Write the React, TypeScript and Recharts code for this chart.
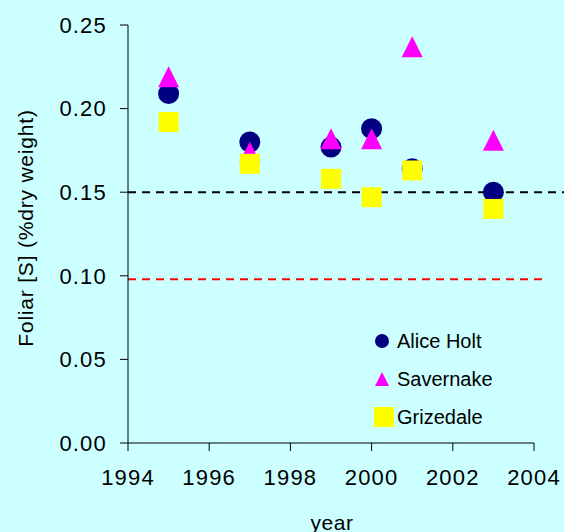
import React from "react";
import {
  ReferenceLine,
  Scatter,
  ScatterChart,
  XAxis,
  YAxis,
} from "recharts";

const years = [1995, 1997, 1999, 2000, 2001, 2003];
const aliceHolt = [0.209, 0.18, 0.177, 0.188, 0.164, 0.15];
const savernake = [0.219, 0.174, 0.182, 0.182, 0.237, 0.181];
const grizedale = [0.192, 0.167, 0.158, 0.147, 0.163, 0.14];

const xTicks = [1994, 1996, 1998, 2000, 2002, 2004];
const yTicks = [0, 0.05, 0.1, 0.15, 0.2, 0.25];

const upperThreshold = 0.15;
const lowerThreshold = 0.098;

const toPoints = (vals: number[]) => years.map((year, i) => ({ year, value: vals[i] }));

const FONT = "'Liberation Sans', Arial, sans-serif";

const Circle = (props: any) => {
  const { cx, cy } = props;
  return <circle cx={cx} cy={cy} r={10.5} fill="#000080" />;
};

const Triangle = (props: any) => {
  const { cx, cy } = props;
  const h = 10.5;
  return (
    <polygon
      points={`${cx},${cy - h} ${cx + h},${cy + h} ${cx - h},${cy + h}`}
      fill="#FF00FF"
    />
  );
};

const Square = (props: any) => {
  const { cx, cy } = props;
  return <rect x={cx - 10} y={cy - 10} width={20} height={20} fill="#FFFF00" />;
};

const YLabel = () => (
  <text
    x={25}
    y={228}
    transform="rotate(-90 25 228)"
    textAnchor="middle"
    dominantBaseline="central"
    fontFamily={FONT}
    fontSize={21}
    letterSpacing={0.8}
    fill="#000"
  >
    Foliar [S] (%dry weight)
  </text>
);

const XLabel = () => (
  <text
    x={332}
    y={522}
    textAnchor="middle"
    dominantBaseline="central"
    fontFamily={FONT}
    fontSize={21}
    letterSpacing={0.5}
    fill="#000"
  >
    year
  </text>
);

const legendItems = [
  { name: "Alice Holt", y: 341 },
  { name: "Savernake", y: 379 },
  { name: "Grizedale", y: 417 },
];

const LegendMarker = ({ name }: { name: string }) => {
  if (name === "Alice Holt")
    return (
      <svg width={22} height={22}>
        <circle cx={8} cy={11} r={7} fill="#000080" />
      </svg>
    );
  if (name === "Savernake")
    return (
      <svg width={22} height={22}>
        <polygon points="8,4 15,18 1,18" fill="#FF00FF" />
      </svg>
    );
  return (
    <svg width={22} height={22}>
      <rect x={0} y={1} width={20} height={20} fill="#FFFF00" />
    </svg>
  );
};

const tickStyle = { fill: "#000", fontSize: 22, fontFamily: FONT, letterSpacing: 1.2 };

export default function App() {
  return (
    <div
      style={{
        position: "absolute",
        left: 0,
        top: 0,
        width: 564,
        height: 532,
        background: "#CCFFFF",
        overflow: "hidden",
      }}
    >
      <ScatterChart
        width={564}
        height={532}
        margin={{ top: 25, right: 30, left: 0, bottom: 0 }}
      >
        <XAxis
          type="number"
          dataKey="year"
          domain={[1994, 2004]}
          ticks={xTicks}
          height={89}
          tickSize={8}
          tickMargin={18}
          stroke="#000"
          tick={tickStyle}
          label={<XLabel />}
        />
        <YAxis
          type="number"
          dataKey="value"
          domain={[0, 0.25]}
          ticks={yTicks}
          width={128}
          tickSize={8}
          tickMargin={13}
          stroke="#000"
          tickFormatter={(v: number) => v.toFixed(2)}
          tick={tickStyle}
          label={<YLabel />}
        />
        <ReferenceLine
          segment={[
            { x: 1994, y: upperThreshold },
            { x: 2004.8, y: upperThreshold },
          ]}
          ifOverflow="visible"
          stroke="#000"
          strokeWidth={2}
          strokeDasharray="8 6"
        />
        <ReferenceLine
          segment={[
            { x: 1994, y: lowerThreshold },
            { x: 2004.3, y: lowerThreshold },
          ]}
          ifOverflow="visible"
          stroke="#FF0000"
          strokeWidth={2}
          strokeDasharray="8 6"
        />
        <Scatter
          name="Alice Holt"
          data={toPoints(aliceHolt)}
          shape={<Circle />}
          isAnimationActive={false}
        />
        <Scatter
          name="Savernake"
          data={toPoints(savernake)}
          shape={<Triangle />}
          isAnimationActive={false}
        />
        <Scatter
          name="Grizedale"
          data={toPoints(grizedale)}
          shape={<Square />}
          isAnimationActive={false}
        />
      </ScatterChart>
      {legendItems.map((item) => (
        <div
          key={item.name}
          style={{
            position: "absolute",
            left: 374,
            top: item.y - 11,
            height: 22,
            display: "flex",
            alignItems: "center",
            fontFamily: FONT,
            fontSize: 20,
            color: "#000",
          }}
        >
          <LegendMarker name={item.name} />
          <span style={{ marginLeft: 1 }}>{item.name}</span>
        </div>
      ))}
    </div>
  );
}
